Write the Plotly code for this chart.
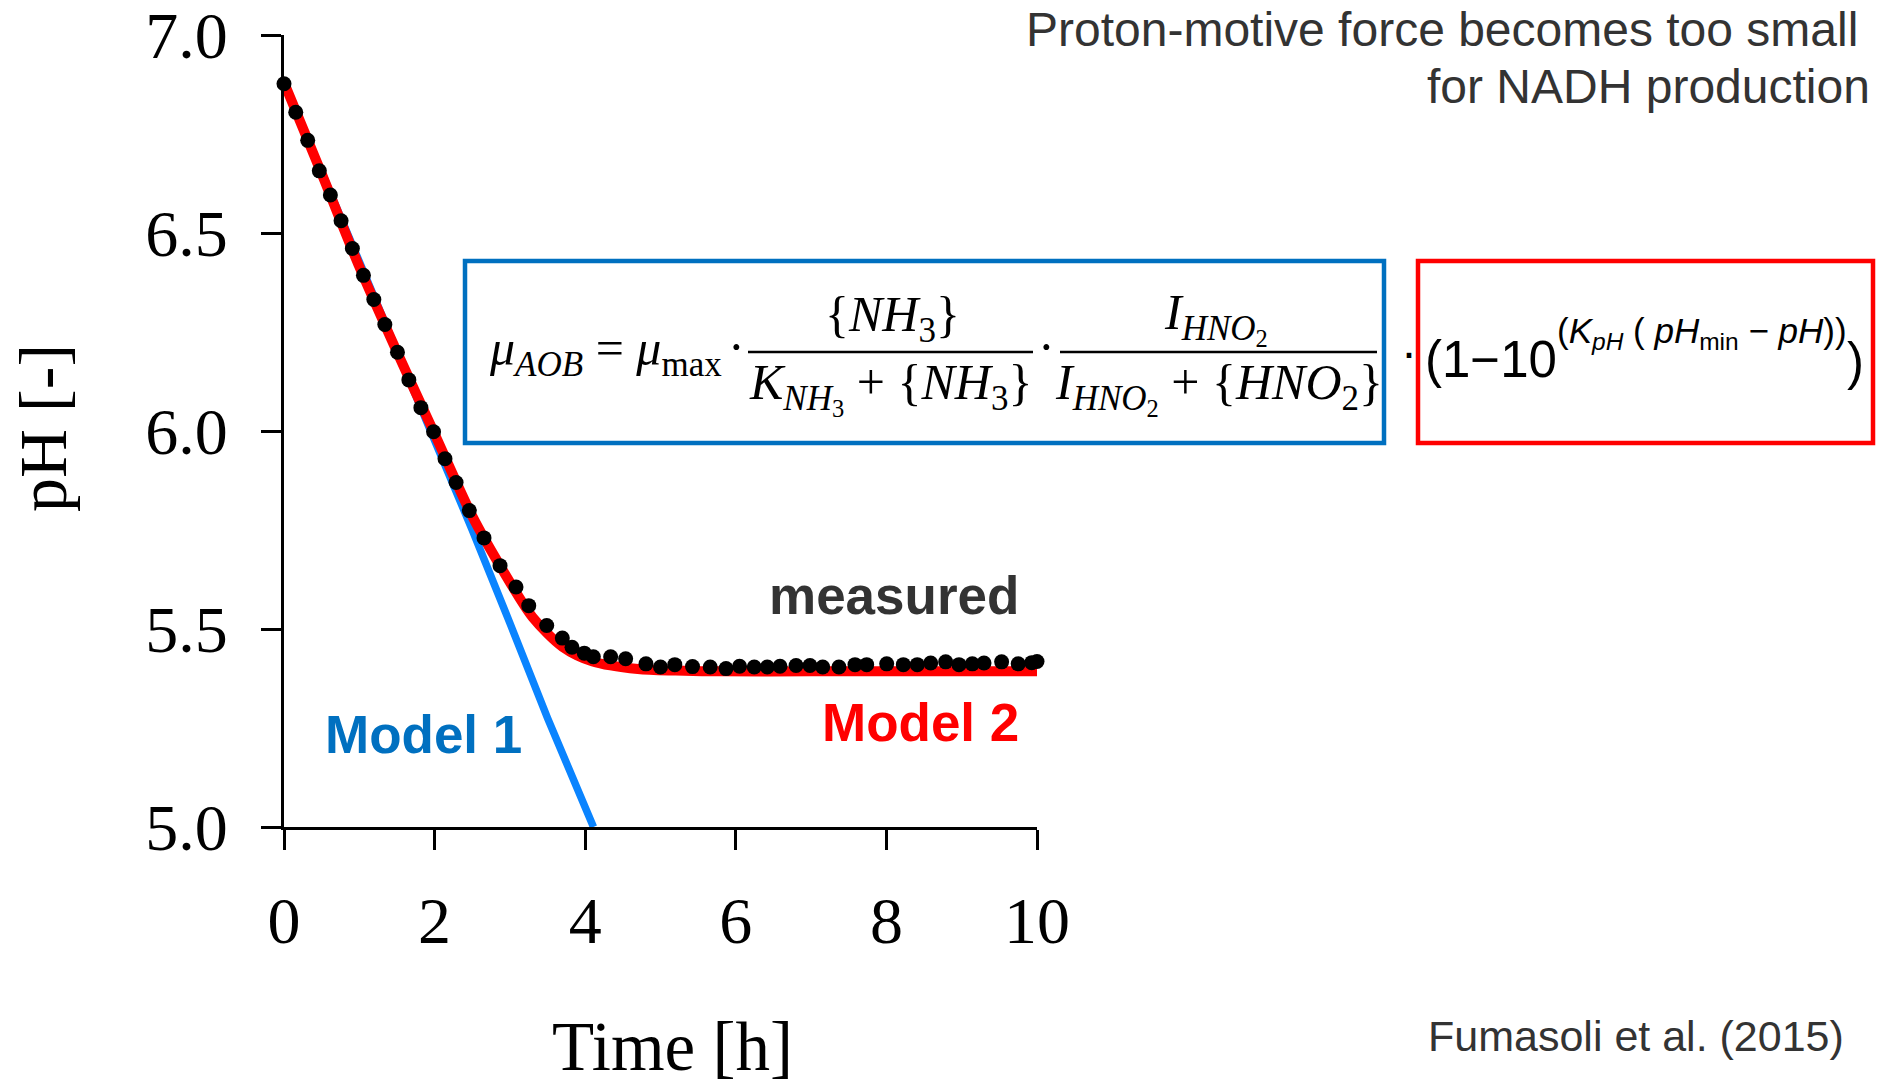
import plotly.graph_objects as go

# ---------------- data ----------------
t_measured = [0, 0.156, 0.315, 0.469, 0.616, 0.758, 0.908, 1.055, 1.193, 1.339, 1.507, 1.658,
              1.818, 1.986, 2.138, 2.285, 2.461, 2.656, 2.869, 3.081, 3.25, 3.489, 3.696, 3.825,
              3.988, 4.108, 4.338, 4.537, 4.807, 5.0, 5.19, 5.425, 5.66, 5.87, 6.05, 6.245,
              6.418, 6.587, 6.80, 6.985, 7.154, 7.37, 7.583, 7.738, 8.004, 8.225, 8.41, 8.588,
              8.787, 8.964, 9.141, 9.296, 9.53, 9.75, 9.93, 10.0]
ph_measured = [6.877, 6.805, 6.734, 6.657, 6.596, 6.531, 6.461, 6.393, 6.332, 6.269, 6.199, 6.129,
               6.059, 5.998, 5.930, 5.870, 5.799, 5.730, 5.660, 5.606, 5.559, 5.509, 5.477, 5.454,
               5.439, 5.430, 5.430, 5.425, 5.412, 5.404, 5.410, 5.405, 5.404, 5.400, 5.406, 5.404,
               5.404, 5.406, 5.408, 5.408, 5.404, 5.404, 5.410, 5.410, 5.412, 5.410, 5.410, 5.414,
               5.417, 5.410, 5.412, 5.414, 5.417, 5.412, 5.415, 5.418]

t_model1 = [0, 0.5, 1, 1.5, 2, 2.5, 3, 3.5, 4.11]
ph_model1 = [6.88, 6.655, 6.43, 6.205, 5.98, 5.75, 5.515, 5.275, 5.0]

t_model2 = [0, 0.5, 1, 1.5, 2, 2.5, 2.9, 3.3, 3.7, 4.1, 4.7, 5.2, 5.8, 7, 8.5, 10.05]
ph_model2 = [6.88, 6.65, 6.415, 6.20, 5.993, 5.785, 5.65, 5.53, 5.455, 5.418, 5.399, 5.395,
             5.393, 5.393, 5.393, 5.393]

x_ticks = [0, 2, 4, 6, 8, 10]
y_ticks = [5.0, 5.5, 6.0, 6.5, 7.0]
y_tick_labels = ["5.0", "5.5", "6.0", "6.5", "7.0"]

# ---------------- layout geometry ----------------
W, H = 1894, 1090
L, R, T, B = 284, 1037, 35, 827  # plot area in pixels


def px(x):
    return (x - L) / (R - L)


def py(y):
    return (B - y) / (B - T)


SERIF = "Liberation Serif, Times New Roman, serif"
SANS = "Liberation Sans, Arial, sans-serif"
BLUE_TXT = "#0070C0"
BLUE_LINE = "#0A84FF"
RED = "#FF0000"
GREY = "#333333"

fig = go.Figure()
fig.add_trace(go.Scatter(x=t_model1, y=ph_model1, mode="lines",
                         line=dict(color=BLUE_LINE, width=7.5), cliponaxis=False,
                         showlegend=False, hoverinfo="skip"))
fig.add_trace(go.Scatter(x=t_model2, y=ph_model2, mode="lines",
                         line=dict(color=RED, width=10, shape="spline", smoothing=0.8),
                         cliponaxis=False, showlegend=False, hoverinfo="skip"))
fig.add_trace(go.Scatter(x=t_measured, y=ph_measured, mode="markers",
                         marker=dict(color="black", size=15), cliponaxis=False,
                         showlegend=False))

annotations = []


def ann(x, y, text, size, family, color="black", xanchor="center", yanchor="middle", **kw):
    annotations.append(dict(x=px(x), y=py(y), xref="paper", yref="paper", text=text,
                            showarrow=False, xanchor=xanchor, yanchor=yanchor,
                            font=dict(size=size, family=family, color=color), **kw))


# axis titles
ann(43, 428, "pH [-]", 68, SERIF, textangle=-90)
ann(672, 1047, "Time [h]", 69, SERIF)

# labels
ann(1021, 595, "<b>measured</b>", 53, SANS, GREY, xanchor="right")
ann(1021, 722, "<b>Model 2</b>", 53, SANS, RED, xanchor="right")
ann(524, 734, "<b>Model 1</b>", 53, SANS, BLUE_TXT, xanchor="right")

# header & source
ann(1860, 29, "Proton-motive force becomes too small", 48, SANS, GREY, xanchor="right")
ann(1872, 86, "for NADH production", 48, SANS, GREY, xanchor="right")
ann(1846, 1036, "Fumasoli et al. (2015)", 43, SANS, GREY, xanchor="right")

# formula (blue part)
FS = 50
ann(487, 352, "<i>μ</i><sub><i>AOB</i></sub> = <i>μ</i><sub>max</sub>", FS, SERIF, xanchor="left")
ann(736, 347, "·", FS, SERIF)
ann(892, 318, "{<i>NH</i><sub>3</sub>}", FS, SERIF)
ann(890, 388, "<i>K</i><sub><i>NH</i><sub>3</sub></sub> + {<i>NH</i><sub>3</sub>}", FS, SERIF)
ann(1046, 347, "·", FS, SERIF)
ann(1216, 318, "<i>I</i><sub><i>HNO</i><sub>2</sub></sub>", FS, SERIF)
ann(1219, 388, "<i>I</i><sub><i>HNO</i><sub>2</sub></sub> + {<i>HNO</i><sub>2</sub>}", FS, SERIF)

# formula (red part)
ann(1409, 352, "·", 48, SANS)
ann(1423, 359, "(1−10", 51, SANS, xanchor="left")
ann(1555, 333, "(<i>K</i><sub><i>pH</i></sub> ( <i>pH</i><sub>min</sub> − <i>pH</i>))", 35, SANS,
    xanchor="left")
ann(1855, 361, ")", 51, SANS)

shapes = [
    dict(type="rect", xref="paper", yref="paper", x0=px(465), x1=px(1384), y0=py(261), y1=py(443),
         line=dict(color=BLUE_TXT, width=4.5)),
    dict(type="rect", xref="paper", yref="paper", x0=px(1418), x1=px(1873), y0=py(261), y1=py(443),
         line=dict(color=RED, width=4.5)),
    dict(type="line", xref="paper", yref="paper", x0=px(748), x1=px(1033), y0=py(352), y1=py(352),
         line=dict(color="black", width=2.5)),
    dict(type="line", xref="paper", yref="paper", x0=px(1060), x1=px(1377), y0=py(352), y1=py(352),
         line=dict(color="black", width=2.5)),
]

fig.update_layout(
    width=W, height=H, autosize=False,
    margin=dict(l=L, r=W - R, t=T, b=H - B, pad=0, autoexpand=False),
    paper_bgcolor="white", plot_bgcolor="white",
    xaxis=dict(range=[0, 10], tickvals=x_ticks, ticks="outside", ticklen=20, tickwidth=3,
               tickcolor="black", showline=True, linewidth=3, linecolor="black",
               showgrid=False, zeroline=False, ticklabelstandoff=14, automargin=False,
               ticklabeloverflow="allow",
               tickfont=dict(family=SERIF, size=66, color="black")),
    yaxis=dict(range=[5, 7], tickvals=y_ticks, ticktext=y_tick_labels, ticks="outside",
               ticklen=20, tickwidth=3, tickcolor="black", showline=True, linewidth=3,
               linecolor="black", showgrid=False, zeroline=False, ticklabelstandoff=20,
               automargin=False, ticklabeloverflow="allow",
               tickfont=dict(family=SERIF, size=66, color="black")),
    annotations=annotations,
    shapes=shapes,
    showlegend=False,
)

fig.write_html("out.html")
